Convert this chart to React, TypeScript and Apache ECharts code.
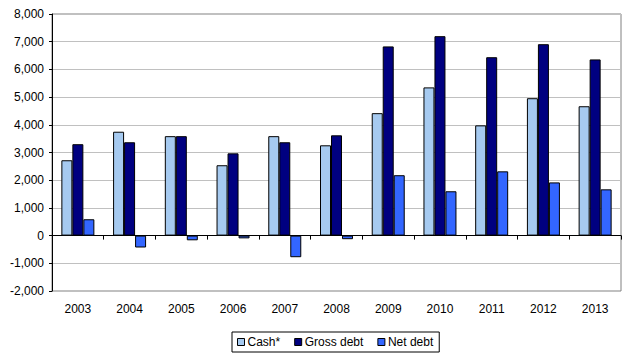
import React, { useEffect, useRef } from "react";
import * as echarts from "echarts";

const years = ["2003", "2004", "2005", "2006", "2007", "2008", "2009", "2010", "2011", "2012", "2013"];
const cash = [2720, 3750, 3590, 2540, 3590, 3260, 4420, 5350, 3980, 4960, 4670];
const grossDebt = [3300, 3370, 3590, 2970, 3370, 3620, 6830, 7200, 6440, 6910, 6360];
const netDebt = [590, -430, -170, -100, -780, -130, 2180, 1600, 2320, 1920, 1670];

const FONT = "Liberation Sans, Arial, sans-serif";

export default function App() {
  const ref = useRef<HTMLDivElement>(null);
  useEffect(() => {
    const chart = echarts.init(ref.current!, null, { renderer: "svg" });
    const barStyle = (color: string) => ({ color, borderColor: "#000000", borderWidth: 1 });
    chart.setOption({
      animation: false,
      backgroundColor: "#ffffff",
      textStyle: { fontFamily: FONT },
      grid: {
        left: 52,
        right: 4,
        top: 14,
        bottom: 67,
        show: true,
        borderColor: "#808080",
        borderWidth: 1,
      },
      legend: {
        bottom: 6,
        left: 232,
        itemWidth: 7,
        itemHeight: 7,
        itemGap: 14,
        padding: [4, 6, 4, 5],
        borderColor: "#000000",
        borderWidth: 1,
        icon: "rect",
        textStyle: { fontFamily: FONT, fontSize: 12, color: "#000000", padding: [0, 0, 0, -2] },
        data: [
          { name: "Cash*", itemStyle: { color: "#a6caf0", borderColor: "#000", borderWidth: 1 } },
          { name: "Gross debt", itemStyle: { color: "#000080", borderColor: "#000", borderWidth: 1 } },
          { name: "Net debt", itemStyle: { color: "#3366ff", borderColor: "#000", borderWidth: 1 } },
        ],
      },
      xAxis: [
        {
          type: "category",
          data: years,
          position: "bottom",
          axisLine: { show: false, onZero: false },
          axisTick: { show: false },
          axisLabel: { fontFamily: FONT, fontSize: 12, color: "#000000", margin: 12 },
        },
        {
          type: "category",
          data: years,
          position: "top",
          axisLine: { show: true, onZero: true, lineStyle: { color: "#000000", width: 1 } },
          axisTick: { show: true, inside: true, length: 4, lineStyle: { color: "#000000" } },
          axisLabel: { show: false },
        },
      ],
      yAxis: {
        type: "value",
        min: -2000,
        max: 8000,
        interval: 1000,
        axisLine: { show: true, lineStyle: { color: "#000000", width: 1 } },
        axisTick: { show: true, length: 3, lineStyle: { color: "#000000" } },
        splitLine: { show: true, lineStyle: { color: "#c0c0c0", width: 1 } },
        axisLabel: {
          fontFamily: FONT,
          fontSize: 12,
          color: "#000000",
          margin: 8,
          formatter: (v: number) => v.toLocaleString("en-US"),
        },
      },
      series: [
        { name: "Cash*", type: "bar", data: cash, barWidth: 11, barGap: "0%", itemStyle: barStyle("#a6caf0") },
        { name: "Gross debt", type: "bar", data: grossDebt, barWidth: 11, barGap: "0%", itemStyle: barStyle("#000080") },
        { name: "Net debt", type: "bar", data: netDebt, barWidth: 11, barGap: "0%", itemStyle: barStyle("#3366ff") },
      ],
    });
    return () => chart.dispose();
  }, []);
  return (
    <div
      ref={ref}
      style={{ position: "fixed", left: 0, top: 0, width: 625, height: 358 }}
    />
  );
}
